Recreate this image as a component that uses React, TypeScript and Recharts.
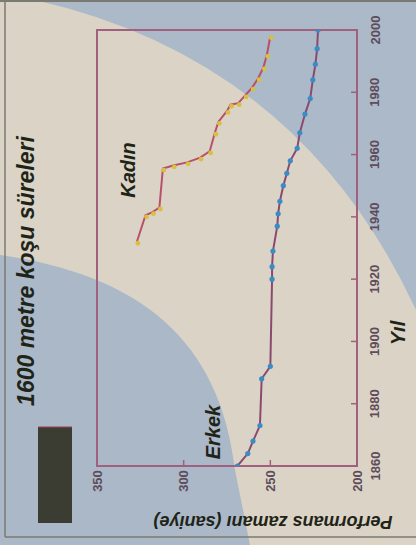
import React from "react";
import { ScatterChart, Scatter, XAxis, YAxis, ReferenceArea } from "recharts";

// values
const yearTicks = [1860, 1880, 1900, 1920, 1940, 1960, 1980, 2000];
const timeTicks = [200, 250, 300, 350];

const menYears = [1860, 1864, 1868, 1873, 1888, 1892, 1920, 1924, 1929, 1937, 1941, 1945, 1950, 1954, 1958, 1962, 1967, 1973, 1978, 1984, 1989, 1994, 2000];
const menTimes = [269, 263, 260, 256, 255, 250, 249, 249, 248.5, 246, 245.5, 244.5, 242.5, 240.5, 238.5, 234.5, 233, 230, 227, 225.5, 224, 223, 222.5];

const womenYears = [1932, 1940.5, 1941.5, 1943, 1955.5, 1956.5, 1957.5, 1959, 1961, 1967, 1970.5, 1974, 1976, 1976.5, 1979, 1981.5, 1984.5, 1988, 1992, 1998];
const womenTimes = [327, 322, 318, 314, 312, 306, 298, 290.5, 285, 282, 280, 275, 273, 268.5, 264.5, 260.5, 257, 254, 252, 250];

const men = menYears.map((year, i) => ({ year, t: menTimes[i] }));
const women = womenYears.map((year, i) => ({ year, t: womenTimes[i] }));

const W = 416;
const H = 545;
const frame = "#a0607e";
const tickColor = "#5e4c5a";
const ink = "#1f2419";
const font = "'Liberation Sans', Arial, sans-serif";

function TimeTick(props: any) {
  const { x, y, payload } = props;
  return (
    <g>
      <line x1={x} y1={y} x2={x} y2={y - 6} stroke={frame} strokeWidth={1.5} />
      <text
        x={x}
        y={y + 15}
        transform={`rotate(-90 ${x} ${y + 15})`}
        textAnchor="middle"
        dominantBaseline="central"
        fontFamily={font}
        fontSize={13}
        fontWeight="bold"
        fill={tickColor}
      >
        {payload.value}
      </text>
    </g>
  );
}

function YearTick(props: any) {
  const { x, y, payload } = props;
  return (
    <g>
      <line x1={x} y1={y} x2={x - 6} y2={y} stroke={frame} strokeWidth={1.5} />
      <text
        x={x + 18}
        y={y}
        transform={`rotate(-90 ${x + 18} ${y})`}
        textAnchor="middle"
        dominantBaseline="central"
        fontFamily={font}
        fontSize={13}
        fontWeight="bold"
        fill={tickColor}
      >
        {payload.value}
      </text>
    </g>
  );
}

const menDot = (p: any) => <circle cx={p.cx} cy={p.cy} r={2.6} fill="#3a8cc4" />;
const womenDot = (p: any) => (
  <circle cx={p.cx + 1} cy={p.cy + 1.5} r={2.4} fill="#d8c040" />
);

function Rotated({ x, y, angle, size, children, anchor = "middle" }: any) {
  return (
    <text
      x={x}
      y={y}
      transform={`rotate(${angle} ${x} ${y})`}
      textAnchor={anchor}
      dominantBaseline="central"
      fontFamily={font}
      fontSize={size}
      fontWeight="bold"
      fontStyle="italic"
      fill={ink}
    >
      {children}
    </text>
  );
}

export default function App() {
  return (
    <div style={{ position: "absolute", left: 0, top: 0, width: W, height: H }}>
      <svg width={W} height={H} style={{ position: "absolute", left: 0, top: 0 }}>
        <rect x={0} y={0} width={W} height={H} fill="#dbd4c6" />
        <path d="M 35 0 Q 300 60 416 310 L 416 0 Z" fill="#abb9c8" />
        <path d="M 0 255 C 140 275 220 340 235 470 L 250 545 L 0 545 Z" fill="#aab8c7" />
        <line x1={0} y1={1} x2={W} y2={1} stroke="#7b7a70" strokeWidth={2} />
        <line x1={5} y1={0} x2={5} y2={537} stroke="#7b7a70" strokeWidth={1.5} />
        <line x1={5} y1={537} x2={W} y2={537} stroke="#7b7a70" strokeWidth={1.5} />
        <rect x={38} y={427} width={34} height={96} fill="#3b3d33" />
        <line x1={38} y1={427} x2={72} y2={427} stroke="#a04050" strokeWidth={1} />
      </svg>
      <div style={{ position: "absolute", left: 0, top: 0 }}>
        <ScatterChart width={W} height={H} margin={{ top: 30, right: 19, bottom: 49, left: 97 }}>
          <XAxis
            type="number"
            dataKey="t"
            domain={[200, 350]}
            ticks={timeTicks}
            reversed
            allowDataOverflow
            height={30}
            tickSize={0}
            tickMargin={0}
            axisLine={false}
            tick={<TimeTick />}
          />
          <YAxis
            type="number"
            dataKey="year"
            orientation="right"
            domain={[1860, 2000]}
            ticks={yearTicks}
            allowDataOverflow
            width={40}
            tickSize={0}
            tickMargin={0}
            axisLine={false}
            tick={<YearTick />}
          />
          <ReferenceArea
            x1={200}
            x2={350}
            y1={1860}
            y2={2000}
            fill="none"
            stroke={frame}
            strokeWidth={2}
            ifOverflow="visible"
          />
          <Scatter
            data={women}
            line={{ stroke: "#b8506a", strokeWidth: 2 }}
            shape={womenDot}
            isAnimationActive={false}
          />
          <Scatter
            data={men}
            line={{ stroke: "#8a4a70", strokeWidth: 2 }}
            shape={menDot}
            isAnimationActive={false}
          />
        </ScatterChart>
      </div>
      <svg width={W} height={H} style={{ position: "absolute", left: 0, top: 0, pointerEvents: "none" }}>
        <Rotated x={26} y={271} angle={-90} size={23}>1600 metre koşu süreleri</Rotated>
        <Rotated x={128} y={170} angle={-90} size={20}>Kadın</Rotated>
        <Rotated x={213} y={432} angle={-90} size={20}>Erkek</Rotated>
        <Rotated x={398} y={333} angle={-90} size={20}>Yıl</Rotated>
        <Rotated x={273} y={522} angle={180} size={18}>Performans zamanı (saniye)</Rotated>
      </svg>
    </div>
  );
}
